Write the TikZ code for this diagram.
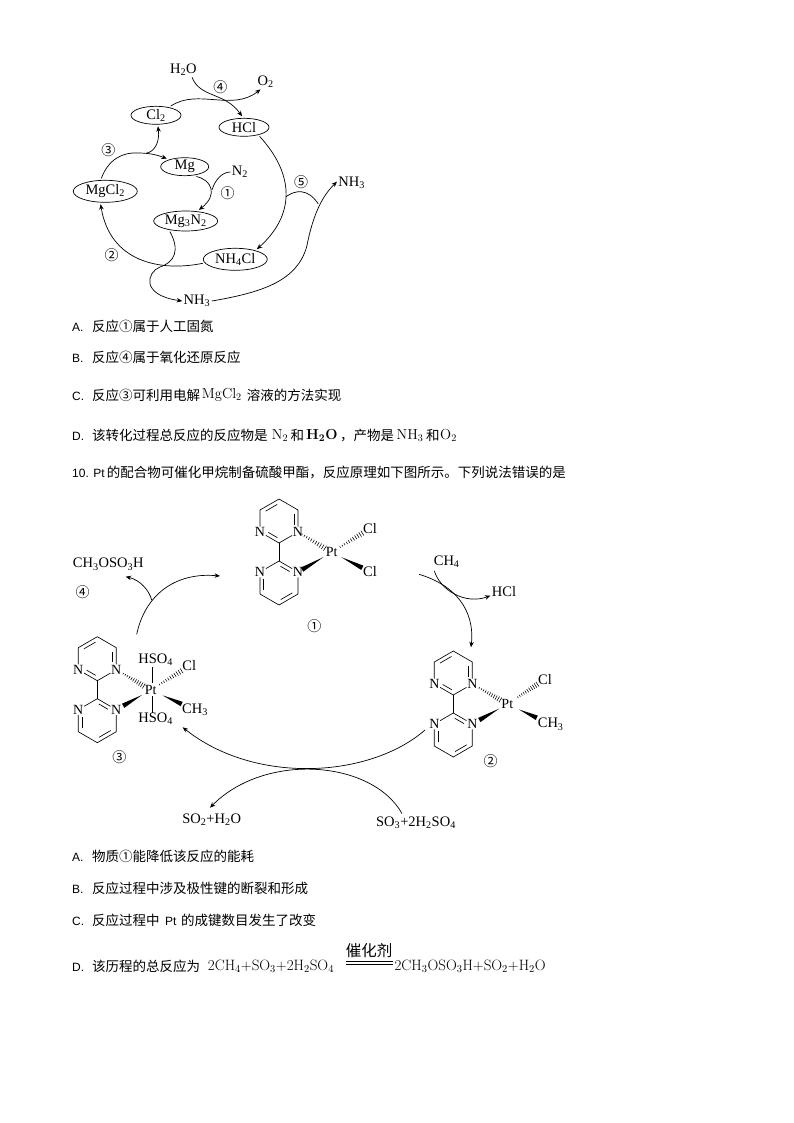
\documentclass[tikz,border=0pt]{standalone}
\usepackage{fontspec}
\usetikzlibrary{arrows.meta,calc,shapes.geometric}
\newfontfamily\cjk{Noto Sans CJK SC}
\newfontfamily\chemf{Liberation Serif}
\newfontfamily\lsans{Liberation Sans}
\newcommand\dn[1]{\textsubscript{#1}}
\tikzset{
  lab/.style={inner sep=0pt,outer sep=1.5pt,font=\chemf\fontsize{14.5}{16}\selectfont},
  elnode/.style={ellipse,draw,line width=0.7pt,inner sep=0pt,outer sep=2pt,font=\chemf\fontsize{14.5}{16}\selectfont},
  circ/.style={inner sep=0pt,font=\cjk\fontsize{14}{16}\selectfont},
  atm/.style={inner sep=0.6pt,font=\chemf\fontsize{14}{16}\selectfont},
  cn/.style={anchor=base west,inner sep=0pt,font=\cjk\fontsize{13.5}{16}\selectfont},
  la/.style={anchor=base west,inner sep=0pt,font=\lsans\fontsize{12}{16}\selectfont},
  lm/.style={anchor=base west,inner sep=0pt,font=\fontsize{14.5}{16}\selectfont},
  lmw/.style={anchor=base west,inner sep=0pt,font=\fontsize{15}{16}\selectfont},
  cv/.style={line width=0.7pt},
  ar/.style={line width=0.7pt,-{Stealth[length=5.5pt,width=4.5pt]}},
  bond/.style={line width=0.65pt}
}
% double-bond inner line: from, to, ring centre, shorten start, shorten end
\newcommand\dbl[5]{\draw[bond] ($(#1)!#4!(#2)!.2!(#3)$) -- ($(#1)!{1-#5}!(#2)!.2!(#3)$);}
% bipyrimidine ligand with prefix
\newcommand\bipy[3]{%
\begin{scope}[shift={(#2,#3)}]
 \coordinate (#1t) at (0,-53); \coordinate (#1ul) at (-19,-42); \coordinate (#1ur) at (19,-42);
 \coordinate (#1cu) at (0,-9); \coordinate (#1cl) at (0,9);
 \coordinate (#1ll) at (-19,42); \coordinate (#1lr) at (19,42); \coordinate (#1b) at (0,53);
 \coordinate (#1uc) at (0,-31); \coordinate (#1lc) at (0,31);
 \node[atm] (#1na) at (-19,-20) {N}; \node[atm] (#1nb) at (19,-20) {N};
 \node[atm] (#1nc) at (-19,20) {N}; \node[atm] (#1nd) at (19,20) {N};
 \draw[bond] (#1t)--(#1ul)--(#1na)--(#1cu)--(#1nb)--(#1ur)--(#1t);
 \draw[bond] (#1b)--(#1ll)--(#1nc)--(#1cl)--(#1nd)--(#1lr)--(#1b);
 \draw[bond] (#1cu)--(#1cl);
 \dbl{#1t}{#1ul}{#1uc}{.12}{.12}
 \dbl{#1ur}{#1nb}{#1uc}{.1}{.3}
 \dbl{#1cu}{#1na}{#1uc}{.1}{.3}
 \dbl{#1cl}{#1nd}{#1lc}{.1}{.3}
 \dbl{#1ll}{#1nc}{#1lc}{.1}{.3}
 \dbl{#1b}{#1lr}{#1lc}{.12}{.12}
\end{scope}}
% solid wedge: narrow end, wide end, fractions cut off
\newcommand\wdg[4]{\coordinate (wa) at ($(#1)!#3!(#2)$); \coordinate (wb) at ($(#1)!{1-#4}!(#2)$);
 \fill (wa) -- ($(wb)!2.4pt!90:(wa)$) -- ($(wb)!2.4pt!-90:(wa)$) -- cycle;}
% hashed wedge
\newcommand\hsh[4]{\coordinate (wa) at ($(#1)!#3!(#2)$); \coordinate (wb) at ($(#1)!{1-#4}!(#2)$);
 \foreach \t in {0,0.1,...,1.01}{
  \coordinate (hp) at ($(wa)!\t!(wb)$);
  \pgfmathsetmacro\hw{0.8+2*\t}
  \draw[line width=0.55pt] ($(hp)!\hw pt!90:(wb)$) -- ($(hp)!\hw pt!-90:(wb)$);}}
\begin{document}
\begin{tikzpicture}[x=1pt,y=-1pt]
\useasboundingbox (0,0) rectangle (794,1123);
\fill[white] (0,0) rectangle (794,1123);
% ---------- first cycle ----------
\node[elnode,minimum width=50pt,minimum height=18pt] (cl) at (156,115.3) {Cl\dn{2}};
\node[elnode,minimum width=50pt,minimum height=18pt] (hcl) at (244,127.3) {HCl};
\node[elnode,minimum width=48pt,minimum height=18pt] (mg) at (184.7,166.7) {Mg};
\node[elnode,minimum width=64pt,minimum height=22pt] (mgcl) at (105.3,191.3) {MgCl\dn{2}};
\node[elnode,minimum width=64pt,minimum height=20pt] (mgn) at (185.7,221) {Mg\dn{3}N\dn{2}};
\node[elnode,minimum width=64pt,minimum height=22pt] (nhcl) at (235.3,259.3) {NH\dn{4}Cl};
\node[lab] (h2o) at (183.3,70) {H\dn{2}O};
\node[lab] (o2) at (265.7,82) {O\dn{2}};
\node[lab] (n2) at (240,172) {N\dn{2}};
\node[lab] (nh3r) at (351.7,183) {NH\dn{3}};
\node[lab] (nh3b) at (197,301) {NH\dn{3}};
\node[circ] (c4) at (220.3,86.7) {④};
\node[circ] (c3) at (108.3,150) {③};
\node[circ] (c1) at (227.7,193.3) {①};
\node[circ] (c5) at (301,182.3) {⑤};
\node[circ] (c2) at (111.7,255.3) {②};
\coordinate (j5a) at (286,196.7);
\coordinate (j5b) at (318.3,204);
\coordinate (jn) at (212,190);
\coordinate (jm) at (146,153.3);
\draw[ar] (cl.32) .. controls (198,88) and (232,112) .. (o2.-125);
\draw[ar] (h2o.-40) .. controls (200,98) and (225,92) .. (hcl.100);
\draw[ar] (hcl.-30) .. controls (295,175) and (295,215) .. (nhcl.25);
\draw[cv] (j5a) .. controls (295,190) and (308,188) .. (j5b);
\draw[ar] (nh3b.east) .. controls (265,292) and (297,280) .. (306.7,246.7) .. controls (311,225) and (318,200) .. (nh3r.175);
\draw[ar] (mg.-40) .. controls (212,180) and (218,195) .. (mgn.40);
\draw[cv] (n2.west) .. controls (222,172) and (215,180) .. (jn);
\draw[ar] (mgcl.107) .. controls (108,160) and (122,152) .. (138,153) .. controls (146,153) and (155,154) .. (mg.156);
\draw[ar] (jm) .. controls (154,152) and (160,143) .. (cl.-80);
\draw[ar] (nhcl.187) .. controls (160,272) and (110,262) .. (mgcl.-110);
\draw[ar] (mgn.-146) .. controls (180,250) and (175,262) .. (160,267) .. controls (147,272) and (140,295) .. (nh3b.west);
% ---------- option text ----------
\node[la] (a1) at (72,331) {A.};
\node[cn] (a1t) at (92,331) {反应①属于人工固氮};
\node[la] (b1) at (72,362.5) {B.};
\node[cn] (b1t) at (92,362.5) {反应④属于氧化还原反应};
\node[la] (c1l) at (72,400) {C.};
\node[cn] (c1t) at (92,400) {反应③可利用电解};
\node[lm] (c1m) at (201.7,398) {MgCl\dn{2}};
\node[cn] (c1u) at (246.7,400) {溶液的方法实现};
\node[la] (d1) at (72,440) {D.};
\node[cn] (d1t) at (92,440) {该转化过程总反应的反应物是};
\node[lm] (d1a) at (271.7,439.5) {N\dn{2}};
\node[cn] (d1b) at (290.5,440) {和};
\node[lm] (d1c) at (306,439.5) {\bfseries H\dn{2}O};
\node[cn] (d1d) at (340,440) {，产物是};
\node[lm] (d1e) at (396.5,439.5) {NH\dn{3}};
\node[cn] (d1f) at (426,440) {和};
\node[lm] (d1g) at (440,439.5) {O\dn{2}};
\node[la] (q10) at (72,477.5) {10. Pt};
\node[cn] (q10t) at (106.7,477.5) {的配合物可催化甲烷制备硫酸甲酯，反应原理如下图所示。下列说法错误的是};
% ---------- complex 1 ----------
\bipy{p}{279}{552}
\node[atm] (pt1) at (331.7,552.3) {Pt};
\node[lab] (cl1a) at (370,528.3) {Cl};
\node[lab] (cl1b) at (370,571.7) {Cl};
\hsh{pnb}{pt1}{.12}{.2}
\wdg{pt1}{pnd}{.25}{.12}
\hsh{pt1}{cl1a}{.22}{.2}
\wdg{pt1}{cl1b}{.25}{.2}
\node[circ] (m1) at (314.3,626) {①};
% ---------- complex 2 ----------
\bipy{q}{453.3}{704}
\node[atm] (pt2) at (507.3,704) {Pt};
\node[lab] (cl2) at (545,679.3) {Cl};
\node[lab] (me2) at (550.7,724.3) {CH\dn{3}};
\hsh{qnb}{pt2}{.2}{.2}
\wdg{pt2}{qnd}{.23}{.2}
\hsh{pt2}{cl2}{.28}{.2}
\wdg{pt2}{me2}{.27}{.32}
\node[circ] (m2) at (490.7,760.7) {②};
% ---------- complex 3 ----------
\bipy{r}{97.3}{689.7}
\node[atm] (pt3) at (150.7,690) {Pt};
\node[lab] (hs3a) at (155.7,660) {HSO\dn{4}};
\node[lab] (hs3b) at (155.7,719) {HSO\dn{4}};
\node[lab] (cl3) at (189.3,666) {Cl};
\node[lab] (me3) at (195,710) {CH\dn{3}};
\hsh{rnb}{pt3}{.2}{.2}
\wdg{pt3}{rnd}{.25}{.2}
\hsh{pt3}{cl3}{.23}{.2}
\wdg{pt3}{me3}{.27}{.3}
\coordinate (v1) at (152.3,667.3);
\coordinate (v2) at (152.3,683);
\coordinate (v3) at (152.3,696);
\coordinate (v4) at (152.3,713);
\draw[bond] (v1) -- (v2);
\draw[bond] (v3) -- (v4);
\node[circ] (m3) at (119.3,757.3) {③};
\node[lab] (prod) at (108.3,564.3) {CH\dn{3}OSO\dn{3}H};
\node[circ] (m4) at (82.7,591.7) {④};
\node[lab] (ch4) at (446.7,561.5) {CH\dn{4}};
\node[lab] (hclb) at (504,592) {HCl};
\node[lab] (so2) at (211.7,819.5) {SO\dn{2}+H\dn{2}O};
\node[lab] (so3) at (416,822.5) {SO\dn{3}+2H\dn{2}SO\dn{4}};
% ---------- arrows of the second cycle ----------
\coordinate (s3) at (136.7,634.3);
\coordinate (j3) at (151.7,600);
\coordinate (e1) at (220,576);
\coordinate (s1) at (419,574.3);
\coordinate (e2) at (471,647.3);
\coordinate (s2) at (425,730);
\coordinate (e3) at (182.7,727.3);
\coordinate (e4) at (125.7,576.7);
\coordinate (e5) at (210,807.7);
\draw[ar] (s3) .. controls (145,595) and (175,572) .. (e1);
\draw[ar] (j3) .. controls (149,590) and (140,580) .. (e4);
\draw[ar] (s1) .. controls (455,585) and (475,610) .. (e2);
\draw[ar] (ch4.south west) ++(2,2) .. controls (440,590) and (465,605) .. (hclb.195);
\draw[ar] (s2) .. controls (370,778) and (255,785) .. (e3);
\draw[ar] (so3.north) ++(-14,-1.5) .. controls (372,760) and (265,752) .. (e5);
% ---------- options of question 10 ----------
\node[la] (a2) at (72,861.5) {A.};
\node[cn] (a2t) at (92,861.5) {物质①能降低该反应的能耗};
\node[la] (b2) at (72,893.5) {B.};
\node[cn] (b2t) at (92,893.5) {反应过程中涉及极性键的断裂和形成};
\node[la] (c2) at (72,925) {C.};
\node[cn] (c2t) at (92,925) {反应过程中};
\node[la] (c2p) at (165,925) {Pt};
\node[cn] (c2u) at (181,925) {的成键数目发生了改变};
\node[la] (d2) at (72,971) {D.};
\node[cn] (d2t) at (92,971) {该历程的总反应为};
\node[lmw] (d2f) at (207.7,970.5) {2CH\dn{4}+SO\dn{3}+2H\dn{2}SO\dn{4}};
\node[inner sep=0pt,font=\cjk\fontsize{15.5}{16}\selectfont] (cat) at (369,950.7) {催化剂};
\coordinate (e1a) at (346,961); \coordinate (e1b) at (392.7,961);
\coordinate (e2a) at (346,964); \coordinate (e2b) at (392.7,964);
\draw[line width=0.7pt] (e1a) -- (e1b);
\draw[line width=0.7pt] (e2a) -- (e2b);
\node[lmw] (d2g) at (394.3,970.5) {2CH\dn{3}OSO\dn{3}H+SO\dn{2}+H\dn{2}O};
\end{tikzpicture}
\end{document}
